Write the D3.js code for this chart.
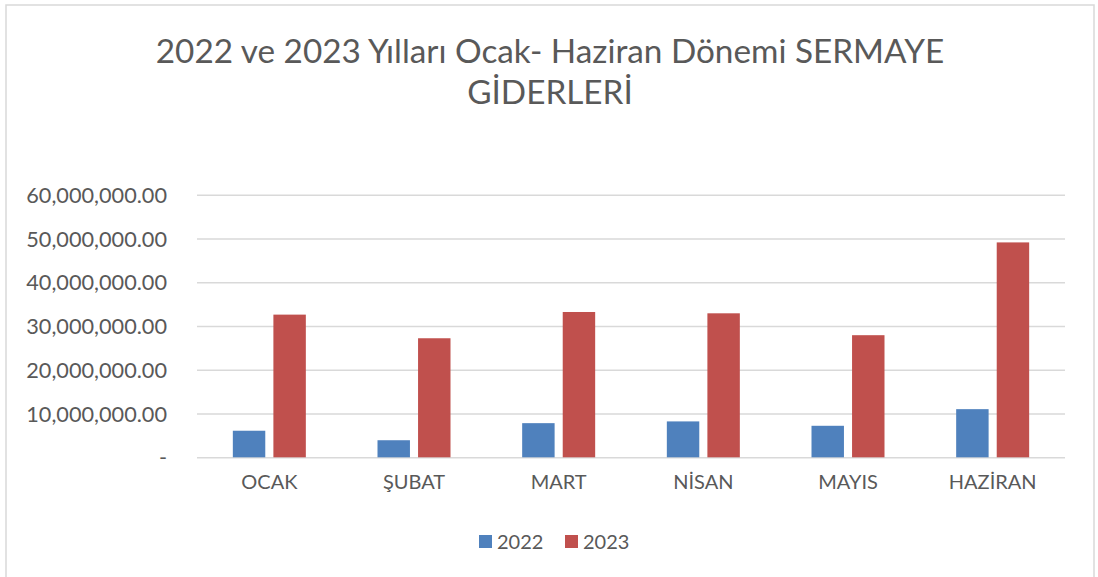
<!DOCTYPE html>
<html><head><meta charset="utf-8">
<script src="https://cdn.jsdelivr.net/npm/d3@7"></script>
<style>body{margin:0;background:#fff;} text{font-family:Lato, "Open Sans", sans-serif;fill:#595959;}</style>
</head><body>
<svg id="c" width="1098" height="577"></svg>
<script>
const categories = ["OCAK","ŞUBAT","MART","NİSAN","MAYIS","HAZİRAN"];
const series = ["2022","2023"];
const values2022 = [6070000, 3900000, 7800000, 8200000, 7200000, 11000000];
const values2023 = [32600000, 27200000, 33200000, 32900000, 27900000, 49100000];
const yTicks = [0,10000000,20000000,30000000,40000000,50000000,60000000];
const colors = ["#4f81bd","#c0504d"];
const titleLines = ["2022 ve 2023 Yılları Ocak- Haziran Dönemi SERMAYE","GİDERLERİ"];

const svg = d3.select("#c");
svg.append("rect").attr("x",6).attr("y",5).attr("width",1088).attr("height",580)
  .attr("fill","#fff").attr("stroke","#d9d9d9").attr("stroke-width",1.5);

const x0 = d3.scaleBand().domain(categories).range([197,1065]).paddingInner(0).paddingOuter(0);
const bw = x0.bandwidth();
const x1 = d3.scaleBand().domain(series).range([bw/2-36.5, bw/2+36.5]).paddingInner(0.2);
const y = d3.scaleLinear().domain([0,60000000]).range([457.3,194.7]);

const yAxis = d3.axisLeft(y).tickValues(yTicks).tickSize(-(1065-197)).tickPadding(30)
  .tickFormat(d => d===0 ? "-" : d3.format(",.2f")(d));
const gy = svg.append("g").attr("transform","translate(197,0)").call(yAxis);
gy.select(".domain").remove();
gy.selectAll(".tick line").attr("stroke","#d9d9d9").attr("stroke-width",1.5);
gy.selectAll(".tick text").attr("font-size",21.7).style("fill","#595959").attr("dy","0.35em");

const data = categories.map((c,i)=>({c, vals:[values2022[i], values2023[i]]}));
const g = svg.append("g");
data.forEach(d=>{
  d.vals.forEach((v,j)=>{
    g.append("rect")
      .attr("x", x0(d.c)+x1(series[j]))
      .attr("y", y(v))
      .attr("width", x1.bandwidth())
      .attr("height", y(0)-y(v))
      .attr("fill", colors[j]);
  });
});

const xAxis = d3.axisBottom(x0).tickSize(0).tickPadding(18);
const gx = svg.append("g").attr("transform","translate(0,"+y(0)+")").call(xAxis);
gx.select(".domain").remove();
gx.selectAll(".tick text").attr("font-size",20).style("fill","#595959");

const t = svg.append("text").attr("text-anchor","middle").attr("font-size",33.3);
titleLines.forEach((l,i)=>{
  t.append("tspan").attr("x",550).attr("y",63+i*41).text(l);
});

const lx = [479,565];
series.forEach((s,i)=>{
  svg.append("rect").attr("x",lx[i]).attr("y",535).attr("width",13).attr("height",13).attr("fill",colors[i]);
  svg.append("text").attr("x",lx[i]+18).attr("y",549).attr("font-size",20).text(s);
});
</script>
</body></html>
